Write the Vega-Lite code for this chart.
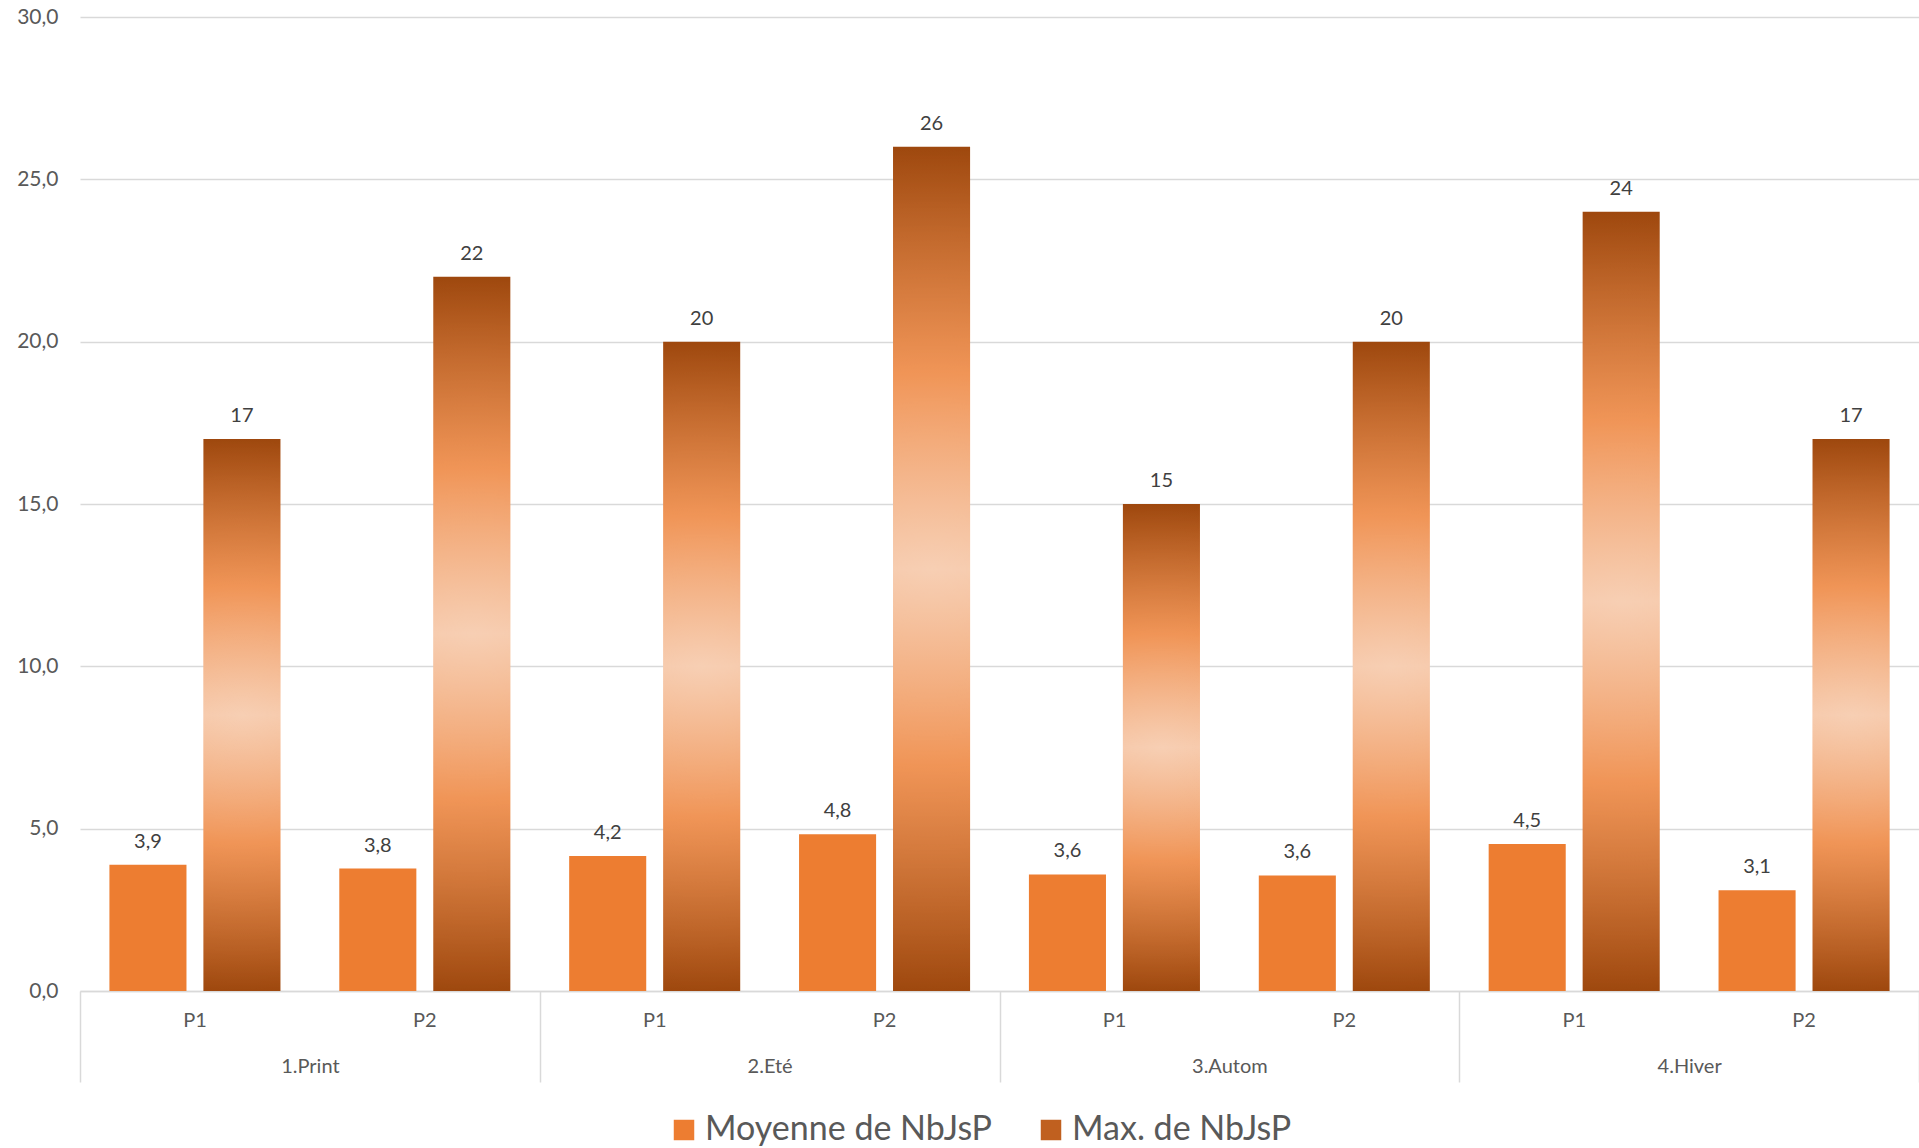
{
  "$schema": "https://vega.github.io/schema/vega-lite/v6.json",
  "autosize": {"type": "none"},
  "width": 1839,
  "height": 974,
  "padding": {"left": 80, "top": 17, "right": 0, "bottom": 157},
  "background": "white",
  "config": {
    "view": {"stroke": null},
    "font": "Lato",
    "locale": {"number": {"decimal": ",", "thousands": " ", "grouping": [3], "currency": ["", " €"]}}
  },
  "data": {
    "values": [
      {"season": "1.Print", "period": "P1", "cat": "1.Print|P1", "series": "Moyenne de NbJsP", "value": 3.89},
      {"season": "1.Print", "period": "P1", "cat": "1.Print|P1", "series": "Max. de NbJsP", "value": 17},
      {"season": "1.Print", "period": "P2", "cat": "1.Print|P2", "series": "Moyenne de NbJsP", "value": 3.77},
      {"season": "1.Print", "period": "P2", "cat": "1.Print|P2", "series": "Max. de NbJsP", "value": 22},
      {"season": "2.Eté", "period": "P1", "cat": "2.Eté|P1", "series": "Moyenne de NbJsP", "value": 4.16},
      {"season": "2.Eté", "period": "P1", "cat": "2.Eté|P1", "series": "Max. de NbJsP", "value": 20},
      {"season": "2.Eté", "period": "P2", "cat": "2.Eté|P2", "series": "Moyenne de NbJsP", "value": 4.83},
      {"season": "2.Eté", "period": "P2", "cat": "2.Eté|P2", "series": "Max. de NbJsP", "value": 26},
      {"season": "3.Autom", "period": "P1", "cat": "3.Autom|P1", "series": "Moyenne de NbJsP", "value": 3.59},
      {"season": "3.Autom", "period": "P1", "cat": "3.Autom|P1", "series": "Max. de NbJsP", "value": 15},
      {"season": "3.Autom", "period": "P2", "cat": "3.Autom|P2", "series": "Moyenne de NbJsP", "value": 3.56},
      {"season": "3.Autom", "period": "P2", "cat": "3.Autom|P2", "series": "Max. de NbJsP", "value": 20},
      {"season": "4.Hiver", "period": "P1", "cat": "4.Hiver|P1", "series": "Moyenne de NbJsP", "value": 4.53},
      {"season": "4.Hiver", "period": "P1", "cat": "4.Hiver|P1", "series": "Max. de NbJsP", "value": 24},
      {"season": "4.Hiver", "period": "P2", "cat": "4.Hiver|P2", "series": "Moyenne de NbJsP", "value": 3.10},
      {"season": "4.Hiver", "period": "P2", "cat": "4.Hiver|P2", "series": "Max. de NbJsP", "value": 17}
    ]
  },
  "resolve": {"scale": {"x": "independent"}, "axis": {"x": "independent"}},
  "layer": [
    {
      "encoding": {
        "x": {
          "field": "cat", "type": "nominal",
          "sort": ["1.Print|P1","1.Print|P2","2.Eté|P1","2.Eté|P2","3.Autom|P1","3.Autom|P2","4.Hiver|P1","4.Hiver|P2"],
          "scale": {"paddingInner": 0, "paddingOuter": 0},
          "axis": {
            "title": null, "orient": "bottom", "labelAngle": 0,
            "labelExpr": "split(datum.value, '|')[1]",
            "ticks": false, "domain": true, "domainColor": "#D9D9D9", "domainWidth": 1.5,
            "labelFont": "Lato", "labelFontSize": 20, "labelColor": "#595959", "labelPadding": 19,
            "grid": false
          }
        },
        "xOffset": {
          "field": "series", "type": "nominal",
          "scale": {"domain": ["Moyenne de NbJsP", "Max. de NbJsP"], "paddingInner": 0.18, "paddingOuter": 0.313}
        },
        "y": {
          "field": "value", "type": "quantitative",
          "scale": {"domain": [0, 30], "nice": false},
          "axis": {
            "title": null, "values": [0, 5, 10, 15, 20, 25, 30], "format": ".1f",
            "domain": false, "ticks": false, "grid": true, "gridColor": "#D9D9D9", "gridWidth": 1.5,
            "labelFont": "Lato", "labelFontSize": 21, "labelColor": "#595959", "labelPadding": 22,
            "minExtent": 80, "maxExtent": 80
          }
        }
      },
      "layer": [
        {
          "transform": [{"filter": "datum.series === 'Moyenne de NbJsP'"}],
          "mark": {"type": "bar"},
          "encoding": {
            "color": {
              "field": "series", "type": "nominal",
              "scale": {"domain": ["Moyenne de NbJsP", "Max. de NbJsP"], "range": ["#ED7D31", "#C0601F"]},
              "legend": {
                "title": null, "orient": "none", "legendX": 587, "legendY": 1096,
                "direction": "horizontal", "symbolType": "square", "symbolSize": 420,
                "symbolStrokeWidth": 0, "labelLimit": 0,
                "labelFont": "Lato", "labelFontSize": 34, "labelColor": "#595959",
                "labelOffset": 4, "columnPadding": 41
              }
            }
          }
        },
        {
          "transform": [{"filter": "datum.series === 'Max. de NbJsP'"}],
          "mark": {
            "type": "bar",
            "color": {
              "gradient": "linear", "x1": 0, "y1": 0, "x2": 0, "y2": 1,
              "stops": [
                {"offset": 0, "color": "#9E480E"},
                {"offset": 0.27, "color": "#ED7D31"},
                {"offset": 0.5, "color": "#F3B58B"},
                {"offset": 0.73, "color": "#ED7D31"},
                {"offset": 1, "color": "#9E480E"}
              ]
            }
          }
        },
        {
          "transform": [{"filter": "datum.series === 'Max. de NbJsP'"}],
          "mark": {
            "type": "bar",
            "color": {
              "gradient": "radial",
              "stops": [
                {"offset": 0, "color": "rgba(255,255,255,0.35)"},
                {"offset": 1, "color": "rgba(255,255,255,0)"}
              ]
            }
          }
        },
        {
          "transform": [{"filter": "datum.series === 'Moyenne de NbJsP'"}],
          "mark": {"type": "text", "baseline": "alphabetic", "dy": -17, "font": "Lato", "fontSize": 20, "color": "#404040"},
          "encoding": {"text": {"field": "value", "type": "quantitative", "format": ".1f"}}
        },
        {
          "transform": [{"filter": "datum.series === 'Max. de NbJsP'"}],
          "mark": {"type": "text", "baseline": "alphabetic", "dy": -17, "font": "Lato", "fontSize": 20, "color": "#404040"},
          "encoding": {"text": {"field": "value", "type": "quantitative", "format": ".0f"}}
        }
      ]
    },
    {
      "mark": {"type": "bar", "opacity": 0},
      "encoding": {
        "x": {
          "field": "season", "type": "nominal",
          "sort": ["1.Print", "2.Eté", "3.Autom", "4.Hiver"],
          "scale": {"paddingInner": 0, "paddingOuter": 0},
          "axis": {
            "title": null, "orient": "bottom", "labelAngle": 0, "domain": false,
            "ticks": true, "tickBand": "extent", "tickSize": 91, "tickColor": "#D9D9D9", "tickWidth": 1.5,
            "labelFont": "Lato", "labelFontSize": 20, "labelColor": "#595959", "labelPadding": -26,
            "grid": false
          }
        }
      }
    }
  ]
}
